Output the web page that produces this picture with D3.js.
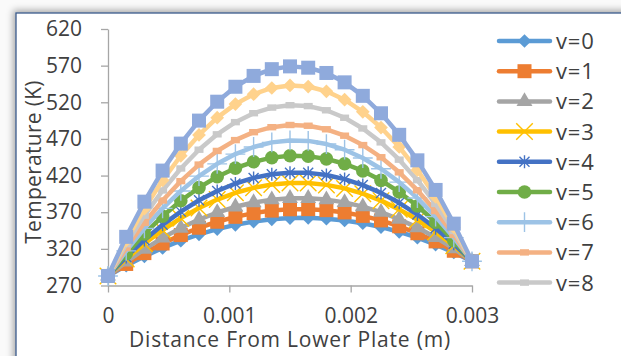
<!DOCTYPE html>
<html>
<head>
<meta charset="utf-8">
<script src="https://cdn.jsdelivr.net/npm/d3@7"></script>
<style>
  body { margin: 0; background: #fff; }
  text { font-family: "Open Sans", sans-serif; fill: #404040; }
</style>
</head>
<body>
<svg id="chart" width="621" height="356"></svg>
<script>
// distance from lower plate (m)
const distance = [0, 0.00015, 0.0003, 0.00045, 0.0006, 0.00075, 0.0009, 0.00105, 0.0012, 0.00135, 0.0015,
  0.00165, 0.0018, 0.00195, 0.0021, 0.00225, 0.0024, 0.00255, 0.0027, 0.00285, 0.003];

// temperature (K), one array per v
const tV0 = [283, 297.1, 309.8, 321.2, 331.2, 339.8, 347.0, 352.8, 357.2, 360.3, 362, 362.3, 361.2, 358.8, 355.0, 349.8, 343.2, 335.2, 325.8, 315.1, 303];
const tV1 = [283, 299.4, 314.2, 327.3, 338.8, 348.8, 357.0, 363.7, 368.8, 372.2, 374, 374.2, 372.8, 369.7, 365.0, 358.8, 350.8, 341.3, 330.2, 317.4, 303];
const tV2 = [283, 302.2, 319.6, 335.0, 348.4, 360.0, 369.6, 377.4, 383.2, 387.0, 389, 389.0, 387.2, 383.4, 377.6, 370.0, 360.4, 349.0, 335.6, 320.2, 303];
const tV3 = [283, 306.2, 327.1, 345.7, 361.9, 375.8, 387.3, 396.5, 403.3, 407.8, 410, 409.8, 407.3, 402.5, 395.3, 385.8, 373.9, 359.7, 343.1, 324.2, 303];
const tV4 = [283, 308.9, 332.2, 352.8, 370.8, 386.3, 399.0, 409.2, 416.8, 421.7, 424, 423.7, 420.8, 415.2, 407.0, 396.3, 382.8, 366.8, 348.2, 326.9, 303];
const tV5 = [283, 313.3, 340.4, 364.5, 385.6, 403.5, 418.4, 430.1, 438.8, 444.5, 447, 446.5, 442.8, 436.1, 426.4, 413.5, 397.6, 378.5, 356.4, 331.3, 303];
const tV6 = [283, 317.3, 348.0, 375.3, 399.0, 419.3, 436.0, 449.3, 459.0, 465.3, 468, 467.3, 463.0, 455.3, 444.0, 429.3, 411.0, 389.3, 364.0, 335.3, 303];
const tV7 = [283, 321.2, 355.6, 386.0, 412.4, 435.0, 453.6, 468.4, 479.2, 486.0, 489, 488.0, 483.2, 474.4, 461.6, 445.0, 424.4, 400.0, 371.6, 339.2, 303];
const tV8 = [283, 326.4, 365.3, 399.7, 429.7, 455.3, 476.3, 492.9, 505.1, 512.8, 516, 514.8, 509.1, 498.9, 484.3, 465.3, 441.7, 413.7, 381.3, 344.4, 303];
const tV9 = [283, 331.5, 375.0, 413.5, 447.0, 475.5, 499.0, 517.5, 531.0, 539.5, 543, 541.5, 535.0, 523.5, 507.0, 485.5, 459.0, 427.5, 391.0, 349.5, 303];
const tV10 = [283, 336.4, 384.4, 426.8, 463.6, 495.0, 520.8, 541.2, 556.0, 565.2, 569, 567.2, 560.0, 547.2, 528.8, 505.0, 475.6, 440.8, 400.4, 354.4, 303];

const seriesNames = ["v=0", "v=1", "v=2", "v=3", "v=4", "v=5", "v=6", "v=7", "v=8", "v=9", "v=10"];
const seriesValues = [tV0, tV1, tV2, tV3, tV4, tV5, tV6, tV7, tV8, tV9, tV10];
const legendCount = 9; // the legend is cut at v=8

const xTicks = [0, 0.001, 0.002, 0.003];
const xTickLabels = ["0", "0.001", "0.002", "0.003"];
const yTicks = [270, 320, 370, 420, 470, 520, 570, 620];

const colors = ["#5B9BD5", "#ED7D31", "#A5A5A5", "#FFC000", "#4472C4", "#70AD47",
  "#9DC3E6", "#F4B183", "#C9C9C9", "#FFD28C", "#8FAADC"];
const markers = ["diamond", "square", "triangle", "x", "star", "circle", "plus", "dash", "dash", "diamond", "square"];

const svg = d3.select("#chart");

// frame with shadow
const defs = svg.append("defs");
const f = defs.append("filter").attr("id", "shadow")
  .attr("x", "-10%").attr("y", "-10%").attr("width", "130%").attr("height", "130%");
f.append("feDropShadow").attr("dx", -2).attr("dy", -2).attr("stdDeviation", 3.5)
  .attr("flood-color", "#000").attr("flood-opacity", 0.35);

svg.append("rect").attr("width", 621).attr("height", 356).attr("fill", "#fafafa");
svg.append("rect")
  .attr("x", 16).attr("y", 13).attr("width", 700).attr("height", 500)
  .attr("fill", "#fff").attr("stroke", "#3B5A8A").attr("stroke-width", 1.3)
  .attr("filter", "url(#shadow)");

const x = d3.scaleLinear().domain([0, 0.003]).range([108, 472]);
const y = d3.scaleLinear().domain([270, 620]).range([285.5, 29]);

// axes
const yAxis = svg.append("g").attr("transform", "translate(108,0)")
  .call(d3.axisLeft(y).tickValues(yTicks).tickSize(7).tickSizeOuter(0).tickPadding(19));
const xAxis = svg.append("g").attr("transform", "translate(0,285.5)")
  .call(d3.axisBottom(x).tickValues(xTicks).tickSize(7).tickSizeOuter(0).tickPadding(16)
    .tickFormat((d, i) => xTickLabels[i]));
[xAxis, yAxis].forEach(g => {
  g.select(".domain").attr("stroke", "#A6A6A6").attr("stroke-width", 1.3);
  g.selectAll(".tick line").attr("stroke", "#A6A6A6").attr("stroke-width", 1.3);
  g.selectAll(".tick text").style("font-size", "21px").style("fill", "#404040");
});

// axis titles
svg.append("text")
  .attr("x", 290).attr("y", 347).attr("text-anchor", "middle")
  .style("font-size", "21px").style("letter-spacing", "0.8px")
  .text("Distance From Lower Plate (m)");
svg.append("text")
  .attr("transform", "translate(41,162) rotate(-90)").attr("text-anchor", "middle")
  .style("font-size", "21px").style("letter-spacing", "0.3px")
  .text("Temperature (K)");

// marker drawing
const starPath = r => `M${-r},${-r}L${r},${r}M${-r},${r}L${r},${-r}M0,${-r * 1.3}L0,${r * 1.3}`;
function drawMarker(g, type, color) {
  if (type === "diamond") {
    g.append("path").attr("d", d3.symbol(d3.symbolDiamond2, 120)()).attr("fill", color);
  } else if (type === "square") {
    g.append("rect").attr("x", -7).attr("y", -7).attr("width", 14).attr("height", 14).attr("fill", color);
  } else if (type === "triangle") {
    g.append("path").attr("d", d3.symbol(d3.symbolTriangle, 110)()).attr("fill", color);
  } else if (type === "circle") {
    g.append("circle").attr("r", 6.8).attr("fill", color);
  } else if (type === "x") {
    g.append("path").attr("d", d3.symbol(d3.symbolTimes, 180)())
      .attr("fill", "none").attr("stroke", color).attr("stroke-width", 1.4);
  } else if (type === "star") {
    g.append("path").attr("d", starPath(5))
      .attr("fill", "none").attr("stroke", color).attr("stroke-width", 1.4);
  } else if (type === "plus") {
    g.append("path").attr("d", d3.symbol(d3.symbolPlus, 130)())
      .attr("fill", "none").attr("stroke", color).attr("stroke-width", 1.4);
  } else if (type === "dash") {
    g.append("rect").attr("x", -4.5).attr("y", -3.2).attr("width", 9).attr("height", 6.4).attr("fill", color);
  }
}

const line = d3.line().x((d, i) => x(distance[i])).y(d => y(d));

seriesValues.forEach((vals, s) => {
  const g = svg.append("g");
  g.append("path").datum(vals)
    .attr("d", line)
    .attr("fill", "none").attr("stroke", colors[s]).attr("stroke-width", 4.5)
    .attr("stroke-linejoin", "round").attr("stroke-linecap", "round");
  vals.forEach((v, i) => {
    const m = g.append("g").attr("transform", `translate(${x(distance[i])},${y(v)})`);
    drawMarker(m, markers[s], colors[s]);
  });
});

// legend
const legend = svg.append("g");
seriesNames.slice(0, legendCount).forEach((name, s) => {
  const ly = 41 + s * 30.2;
  legend.append("line")
    .attr("x1", 499).attr("x2", 550).attr("y1", ly).attr("y2", ly)
    .attr("stroke", colors[s]).attr("stroke-width", 4.5).attr("stroke-linecap", "round");
  const m = legend.append("g").attr("transform", `translate(524.5,${ly})`);
  drawMarker(m, markers[s], colors[s]);
  legend.append("text").attr("x", 556).attr("y", ly).attr("dy", "0.36em")
    .style("font-size", "22px").style("letter-spacing", "0.8px").text(name);
});
</script>
</body>
</html>
